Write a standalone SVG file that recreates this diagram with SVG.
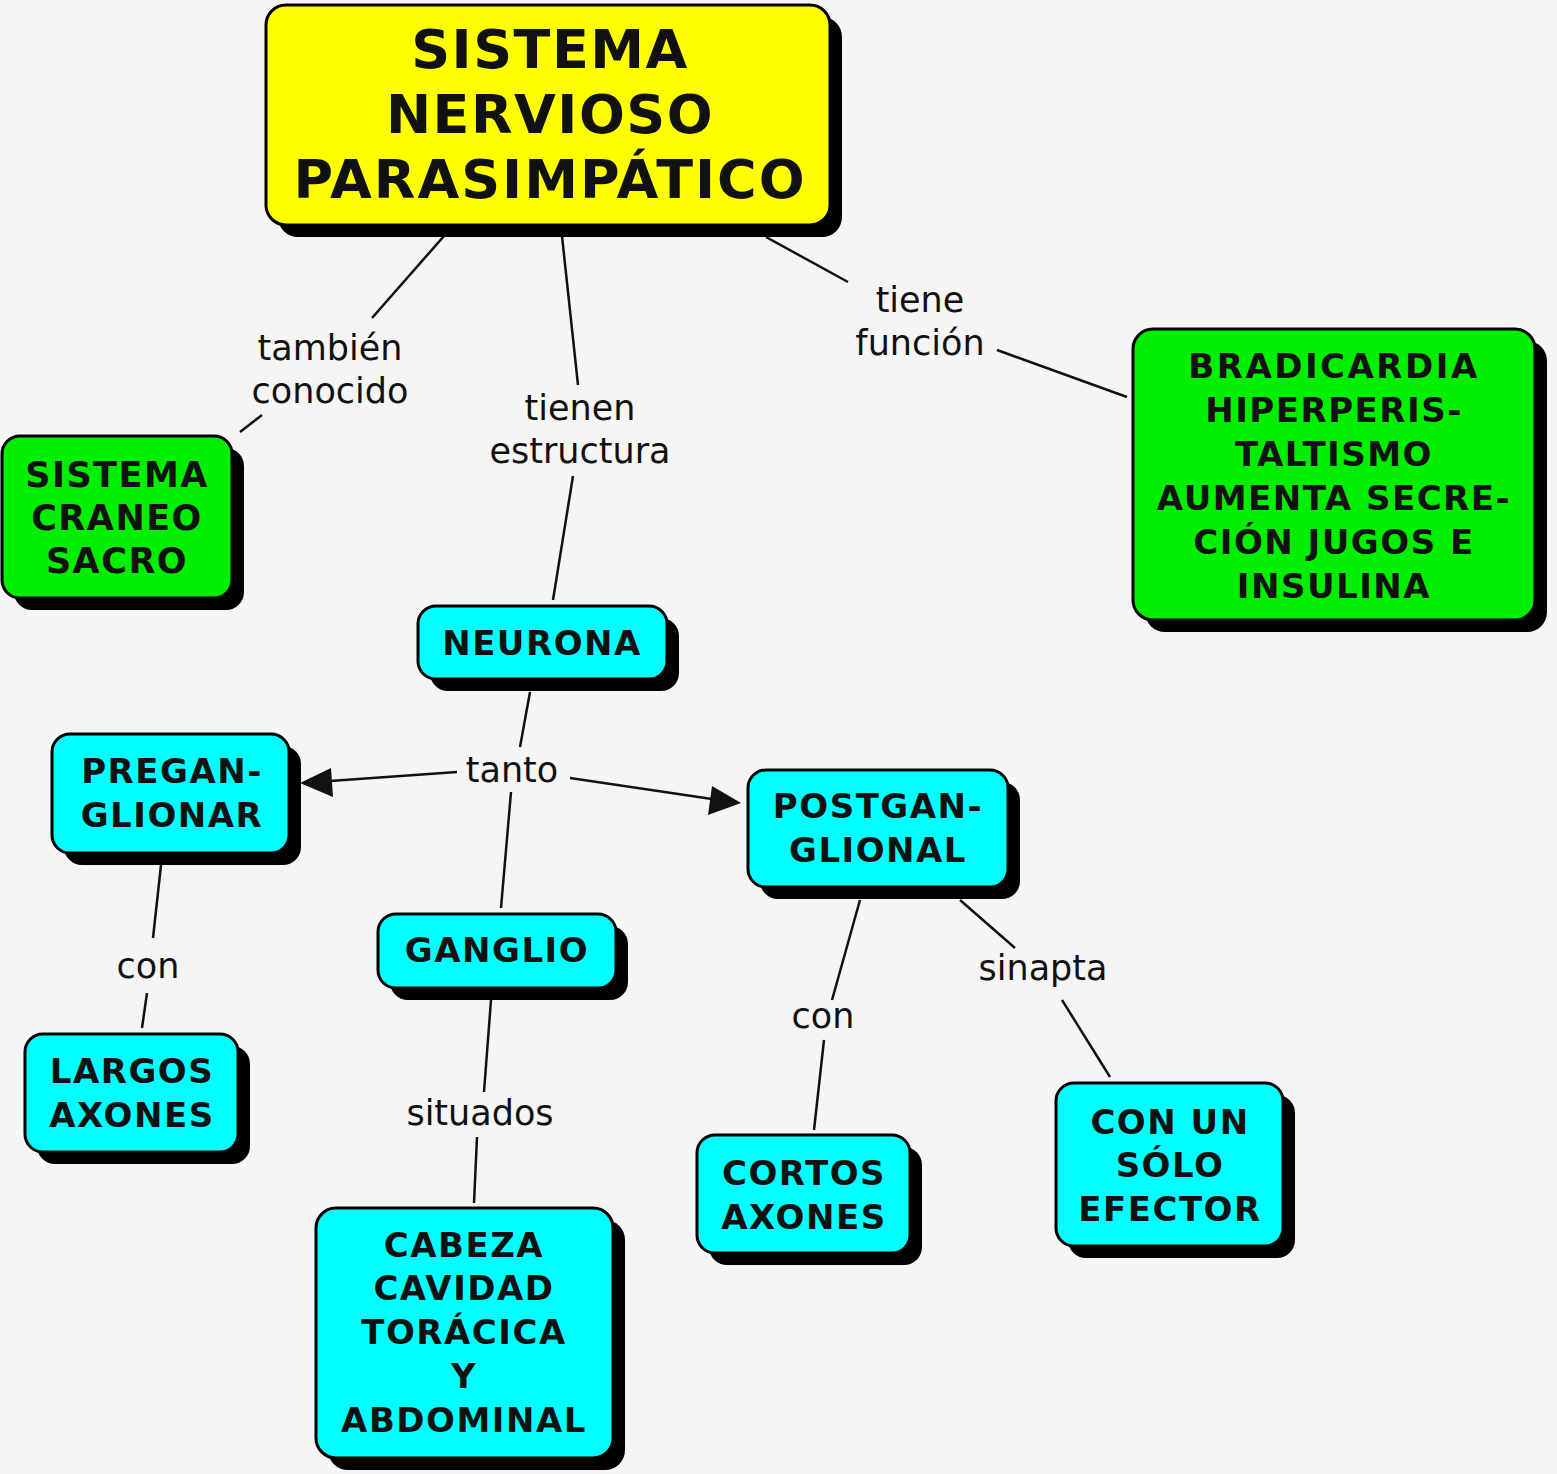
<svg xmlns="http://www.w3.org/2000/svg" width="1557" height="1474" viewBox="0 0 1557 1474">
<defs>
<style>
.sh{fill:#000}
.y{fill:#ffff00;stroke:#000;stroke-width:3}
.g{fill:#00ee00;stroke:#000;stroke-width:3}
.c{fill:#00ffff;stroke:#000;stroke-width:3}
.t{font-family:"DejaVu Sans",Verdana,sans-serif;font-weight:bold;fill:#111;text-anchor:middle;letter-spacing:1.5px}
.l{font-family:"DejaVu Sans",Verdana,sans-serif;font-size:35px;fill:#111;text-anchor:middle}
.ln{stroke:#111;stroke-width:2.5;fill:none}
</style>
</defs>
<rect width="1557" height="1474" fill="#f5f5f5"/>

<g id="connectors">
<line class="ln" x1="444" y1="236" x2="372" y2="318"/>
<line class="ln" x1="262" y1="415" x2="240" y2="432"/>
<line class="ln" x1="562" y1="236" x2="578" y2="385"/>
<line class="ln" x1="573" y1="476" x2="553" y2="600"/>
<line class="ln" x1="766" y1="237" x2="848" y2="282"/>
<line class="ln" x1="997" y1="350" x2="1127" y2="397"/>
<line class="ln" x1="530" y1="692" x2="520" y2="747"/>
<line class="ln" x1="457" y1="772" x2="330" y2="781"/>
<path d="M300,783 L331,768 L333,797 z" fill="#111"/>
<line class="ln" x1="570" y1="778" x2="712" y2="799"/>
<path d="M741,803 L708,815 L712,786 z" fill="#111"/>
<line class="ln" x1="511" y1="792" x2="501" y2="908"/>
<line class="ln" x1="161" y1="865" x2="153" y2="938"/>
<line class="ln" x1="147" y1="993" x2="142" y2="1028"/>
<line class="ln" x1="491" y1="1000" x2="484" y2="1092"/>
<line class="ln" x1="477" y1="1137" x2="474" y2="1203"/>
<line class="ln" x1="860" y1="900" x2="832" y2="1000"/>
<line class="ln" x1="824" y1="1040" x2="814" y2="1130"/>
<line class="ln" x1="960" y1="900" x2="1015" y2="948"/>
<line class="ln" x1="1062" y1="1000" x2="1110" y2="1077"/>
</g>

<g id="labels">
<text class="l" x="330" y="360">también</text>
<text class="l" x="330" y="403">conocido</text>
<text class="l" x="580" y="420">tienen</text>
<text class="l" x="580" y="463">estructura</text>
<text class="l" x="920" y="312">tiene</text>
<text class="l" x="920" y="355">función</text>
<text class="l" x="512" y="782">tanto</text>
<text class="l" x="148" y="978">con</text>
<text class="l" x="480" y="1125">situados</text>
<text class="l" x="823" y="1028">con</text>
<text class="l" x="1043" y="980">sinapta</text>
</g>

<g id="n-title">
<rect class="sh" x="278" y="17" width="564" height="220" rx="20"/>
<rect class="y" x="266" y="5" width="564" height="220" rx="20"/>
<text class="t" font-size="54" x="550" y="68">SISTEMA</text>
<text class="t" font-size="54" x="550" y="133">NERVIOSO</text>
<text class="t" font-size="54" x="550" y="198" style="letter-spacing:2px">PARASIMPÁTICO</text>
</g>

<g id="n-craneo">
<rect class="sh" x="14" y="448" width="230" height="162" rx="18"/>
<rect class="g" x="2" y="436" width="230" height="162" rx="18"/>
<text class="t" font-size="35" x="117" y="487">SISTEMA</text>
<text class="t" font-size="35" x="117" y="530">CRANEO</text>
<text class="t" font-size="35" x="117" y="573">SACRO</text>
</g>

<g id="n-funcion">
<rect class="sh" x="1145" y="341" width="402" height="291" rx="20"/>
<rect class="g" x="1133" y="329" width="402" height="291" rx="20"/>
<text class="t" font-size="34" x="1334" y="378" style="letter-spacing:2.5px">BRADICARDIA</text>
<text class="t" font-size="34" x="1334" y="422">HIPERPERIS-</text>
<text class="t" font-size="34" x="1334" y="466">TALTISMO</text>
<text class="t" font-size="34" x="1334" y="510">AUMENTA SECRE-</text>
<text class="t" font-size="34" x="1334" y="554">CIÓN JUGOS E</text>
<text class="t" font-size="34" x="1334" y="598">INSULINA</text>
</g>

<g id="n-neurona">
<rect class="sh" x="430" y="618" width="249" height="73" rx="18"/>
<rect class="c" x="418" y="606" width="249" height="73" rx="18"/>
<text class="t" font-size="34" x="542" y="655">NEURONA</text>
</g>

<g id="n-pregan">
<rect class="sh" x="64" y="746" width="237" height="119" rx="18"/>
<rect class="c" x="52" y="734" width="237" height="119" rx="18"/>
<text class="t" font-size="34" x="172" y="783">PREGAN-</text>
<text class="t" font-size="34" x="172" y="827">GLIONAR</text>
</g>

<g id="n-postgan">
<rect class="sh" x="760" y="782" width="260" height="117" rx="18"/>
<rect class="c" x="748" y="770" width="260" height="117" rx="18"/>
<text class="t" font-size="34" x="878" y="818">POSTGAN-</text>
<text class="t" font-size="34" x="878" y="862">GLIONAL</text>
</g>

<g id="n-ganglio">
<rect class="sh" x="390" y="926" width="238" height="74" rx="18"/>
<rect class="c" x="378" y="914" width="238" height="74" rx="18"/>
<text class="t" font-size="34" x="497" y="962">GANGLIO</text>
</g>

<g id="n-largos">
<rect class="sh" x="37" y="1046" width="213" height="118" rx="18"/>
<rect class="c" x="25" y="1034" width="213" height="118" rx="18"/>
<text class="t" font-size="34" x="132" y="1083">LARGOS</text>
<text class="t" font-size="34" x="132" y="1127">AXONES</text>
</g>

<g id="n-cabeza">
<rect class="sh" x="328" y="1220" width="297" height="250" rx="20"/>
<rect class="c" x="316" y="1208" width="297" height="250" rx="20"/>
<text class="t" font-size="34" x="464" y="1257">CABEZA</text>
<text class="t" font-size="34" x="464" y="1300">CAVIDAD</text>
<text class="t" font-size="34" x="464" y="1344">TORÁCICA</text>
<text class="t" font-size="34" x="464" y="1388">Y</text>
<text class="t" font-size="34" x="464" y="1432">ABDOMINAL</text>
</g>

<g id="n-cortos">
<rect class="sh" x="709" y="1147" width="213" height="118" rx="18"/>
<rect class="c" x="697" y="1135" width="213" height="118" rx="18"/>
<text class="t" font-size="34" x="804" y="1185">CORTOS</text>
<text class="t" font-size="34" x="804" y="1229">AXONES</text>
</g>

<g id="n-efector">
<rect class="sh" x="1068" y="1095" width="227" height="163" rx="18"/>
<rect class="c" x="1056" y="1083" width="227" height="163" rx="18"/>
<text class="t" font-size="34" x="1170" y="1134">CON UN</text>
<text class="t" font-size="34" x="1170" y="1177">SÓLO</text>
<text class="t" font-size="34" x="1170" y="1221">EFECTOR</text>
</g>
</svg>
